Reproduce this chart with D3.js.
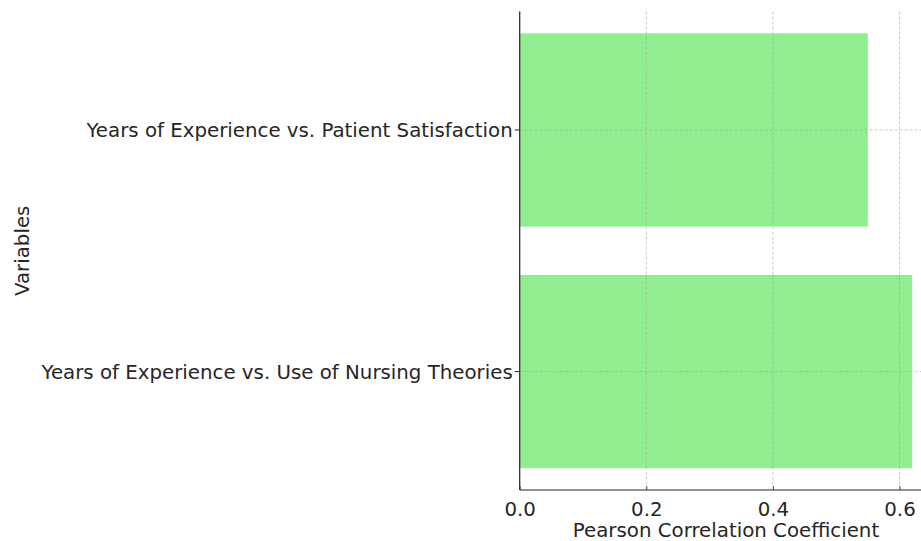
<!DOCTYPE html>
<html><head><meta charset="utf-8">
<script src="https://d3js.org/d3.v7.min.js"></script>
<style>body{margin:0;background:#fff;} svg{display:block;font-family:"DejaVu Sans",sans-serif;}</style>
</head><body>
<script>
const categories = ["Years of Experience vs. Patient Satisfaction", "Years of Experience vs. Use of Nursing Theories"];
const values = [0.55, 0.62];
const xTicks = [0.0, 0.2, 0.4, 0.6];
const xLabel = "Pearson Correlation Coefficient";
const yLabel = "Variables";

(function () {
const W = 921, H = 541;
const FS = "19.8px";
const svg = d3.select("body").append("svg").attr("width", W).attr("height", H);
const pLeft = 519.7, pBottom = 490, pTop = 11.6;
const xMax = 0.62 * 1.05;
const x = d3.scaleLinear().domain([0, xMax]).range([pLeft, pLeft + xMax * 633]);
const y = d3.scaleLinear().domain([-0.49, 1.49]).range([pTop, pBottom]);

const g = svg.append("g");
g.selectAll("rect.bar").data(values).join("rect")
  .attr("class", "bar")
  .attr("x", x(0))
  .attr("y", (d, i) => y(i - 0.4))
  .attr("width", d => x(d) - x(0))
  .attr("height", (d, i) => y(i + 0.4) - y(i - 0.4))
  .attr("fill", "#90EE90");

g.selectAll("line.vg").data(xTicks).join("line").attr("class", "vg")
  .attr("x1", d => x(d)).attr("x2", d => x(d))
  .attr("y1", pTop).attr("y2", pBottom)
  .attr("stroke", "#a0a0a0").attr("stroke-opacity", 0.7).attr("stroke-width", 0.8)
  .attr("stroke-dasharray", "3,2");
g.selectAll("line.hg").data(categories).join("line").attr("class", "hg")
  .attr("x1", pLeft).attr("x2", W)
  .attr("y1", (d, i) => y(i)).attr("y2", (d, i) => y(i))
  .attr("stroke", "#a0a0a0").attr("stroke-opacity", 0.7).attr("stroke-width", 0.8)
  .attr("stroke-dasharray", "3,2");

const xAxis = d3.axisBottom(x).tickValues(xTicks).tickFormat(d3.format(".1f")).tickSize(-4).tickPadding(12);
const xa = svg.append("g").attr("transform", `translate(0,${pBottom})`).call(xAxis);
xa.select(".domain").remove();
xa.append("line").attr("x1", pLeft).attr("x2", W).attr("stroke", "#262626").attr("stroke-width", 1.2);
xa.selectAll(".tick line").attr("stroke", "#555");
xa.selectAll(".tick text").attr("fill", "#262626").style("font-size", FS).style("font-family", "DejaVu Sans");

const ya = svg.append("g").attr("transform", `translate(${pLeft},0)`);
ya.append("line").attr("y1", pTop).attr("y2", pBottom).attr("stroke", "#262626").attr("stroke-width", 1.2);
ya.selectAll("line.t").data(categories).join("line").attr("class", "t")
  .attr("x1", -5).attr("x2", 0).attr("y1", (d, i) => y(i)).attr("y2", (d, i) => y(i)).attr("stroke", "#262626");
ya.selectAll("text.cl").data(categories).join("text").attr("class", "cl")
  .attr("x", -7).attr("y", (d, i) => y(i)).attr("dy", "0.35em")
  .attr("text-anchor", "end").attr("fill", "#262626").style("font-size", FS)
  .text(d => d);

svg.append("text").attr("x", 726).attr("y", 537).attr("text-anchor", "middle")
  .attr("fill", "#262626").style("font-size", FS).text(xLabel);
svg.append("text").attr("transform", `translate(29,${(pTop + pBottom) / 2}) rotate(-90)`)
  .attr("text-anchor", "middle").attr("fill", "#262626").style("font-size", FS).text(yLabel);
})();
</script>
</body></html>
